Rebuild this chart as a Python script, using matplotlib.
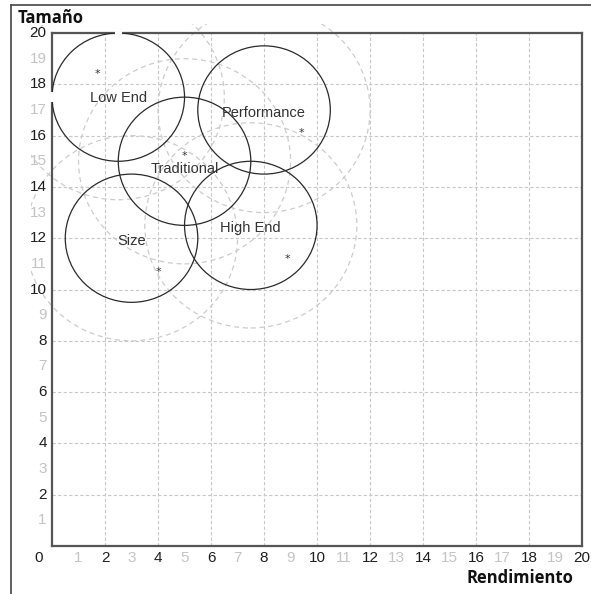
import matplotlib
matplotlib.use("Agg")
import matplotlib.pyplot as plt
from matplotlib.patches import Circle, Rectangle

# segment data (Rendimiento, Tamaño)
segments = ['Low End', 'Performance', 'Traditional', 'Size', 'High End']
center_x = [2.5, 8.0, 5.0, 3.0, 7.5]
center_y = [17.5, 17.0, 15.0, 12.0, 12.5]
inner_r = [2.5, 2.5, 2.5, 2.5, 2.5]
outer_r = [4.0, 4.0, 4.0, 4.0, 4.0]
ideal_x = [1.7, 9.4, 5.0, 4.0, 8.9]
ideal_y = [18.4, 16.1, 15.2, 10.7, 11.2]
label_dy = [-0.05, -0.1, -0.3, -0.1, -0.1]
ticks = list(range(1, 21))

fig = plt.figure(figsize=(5.91, 5.94), dpi=100)
ax = fig.add_axes([0.088, 0.0808, 0.897, 0.8636])
ax.set_xlim(0, 20)
ax.set_ylim(0, 20)

ax.set_xticks(range(2, 21, 2))
ax.set_yticks(range(2, 21, 2))
ax.grid(True, color='#c8c8c8', linestyle=(0, (3, 2)), linewidth=0.8)
ax.set_axisbelow(True)

# tick labels drawn by hand: even dark, odd light
ax.tick_params(length=0, labelbottom=False, labelleft=False)
for t in ticks:
    col = '#1e1e1e' if t % 2 == 0 else '#c4c4c4'
    ax.text(t, -0.45, str(t), ha='center', va='center', fontsize=11,
            color=col, family='Liberation Sans')
    ax.text(-0.2, t, str(t), ha='right', va='center', fontsize=11,
            color=col, family='Liberation Sans')
ax.text(-0.35, -0.45, '0', ha='right', va='center', fontsize=11,
        color='#1e1e1e', family='Liberation Sans')

for s in ax.spines.values():
    s.set_color('#555555')
    s.set_linewidth(1.6)

# dashed outer ranges spill a little past the frame
spill = Rectangle((-0.8, 0), 20.8, 20.35, transform=ax.transData,
                  fill=False, visible=False)
fig.add_artist(spill)
for i, name in enumerate(segments):
    c = Circle((center_x[i], center_y[i]), outer_r[i], fill=False,
               edgecolor='#cccccc', linestyle=(0, (4, 3)),
               linewidth=0.9, zorder=2)
    ax.add_patch(c)
    c.set_clip_path(spill)

for i, name in enumerate(segments):
    ax.add_patch(Circle((center_x[i], center_y[i]), inner_r[i], fill=False,
                        edgecolor='#2a2a2a', linewidth=0.9, zorder=3))
    ax.text(center_x[i], center_y[i] + label_dy[i], name,
            ha='center', va='center', fontsize=10.5, color='#333333',
            family='Liberation Sans', zorder=4)
    ax.text(ideal_x[i], ideal_y[i], '*', ha='center', va='center',
            fontsize=8, color='#333333', zorder=4)

# small breaks in the frame where the Low End circle touches it
cx, cy, r = center_x[0], center_y[0], inner_r[0]
ax.plot([cx - 0.13, cx + 0.13], [cy + r, cy + r], color='white', lw=2.6,
        solid_capstyle='butt', clip_on=False, zorder=5)
ax.plot([cx - r, cx - r], [cy - 0.2, cy + 0.2], color='white', lw=2.6,
        solid_capstyle='butt', clip_on=False, zorder=5)

fig.text(0.029, 0.97, 'Tamaño', ha='left', va='center', fontsize=12,
         fontweight='bold', family='Open Sans', color='#111111')
fig.text(0.97, 0.027, 'Rendimiento', ha='right', va='center', fontsize=12,
         fontweight='bold', family='Open Sans', color='#111111')

# outer screenshot frame
fig.add_artist(plt.Line2D([0.0186, 1.0], [0.991, 0.991], color='#444444', lw=1.2))
fig.add_artist(plt.Line2D([0.0186, 0.0186], [0.0, 0.991], color='#444444', lw=1.2))

fig.savefig('out.png', dpi=100)
